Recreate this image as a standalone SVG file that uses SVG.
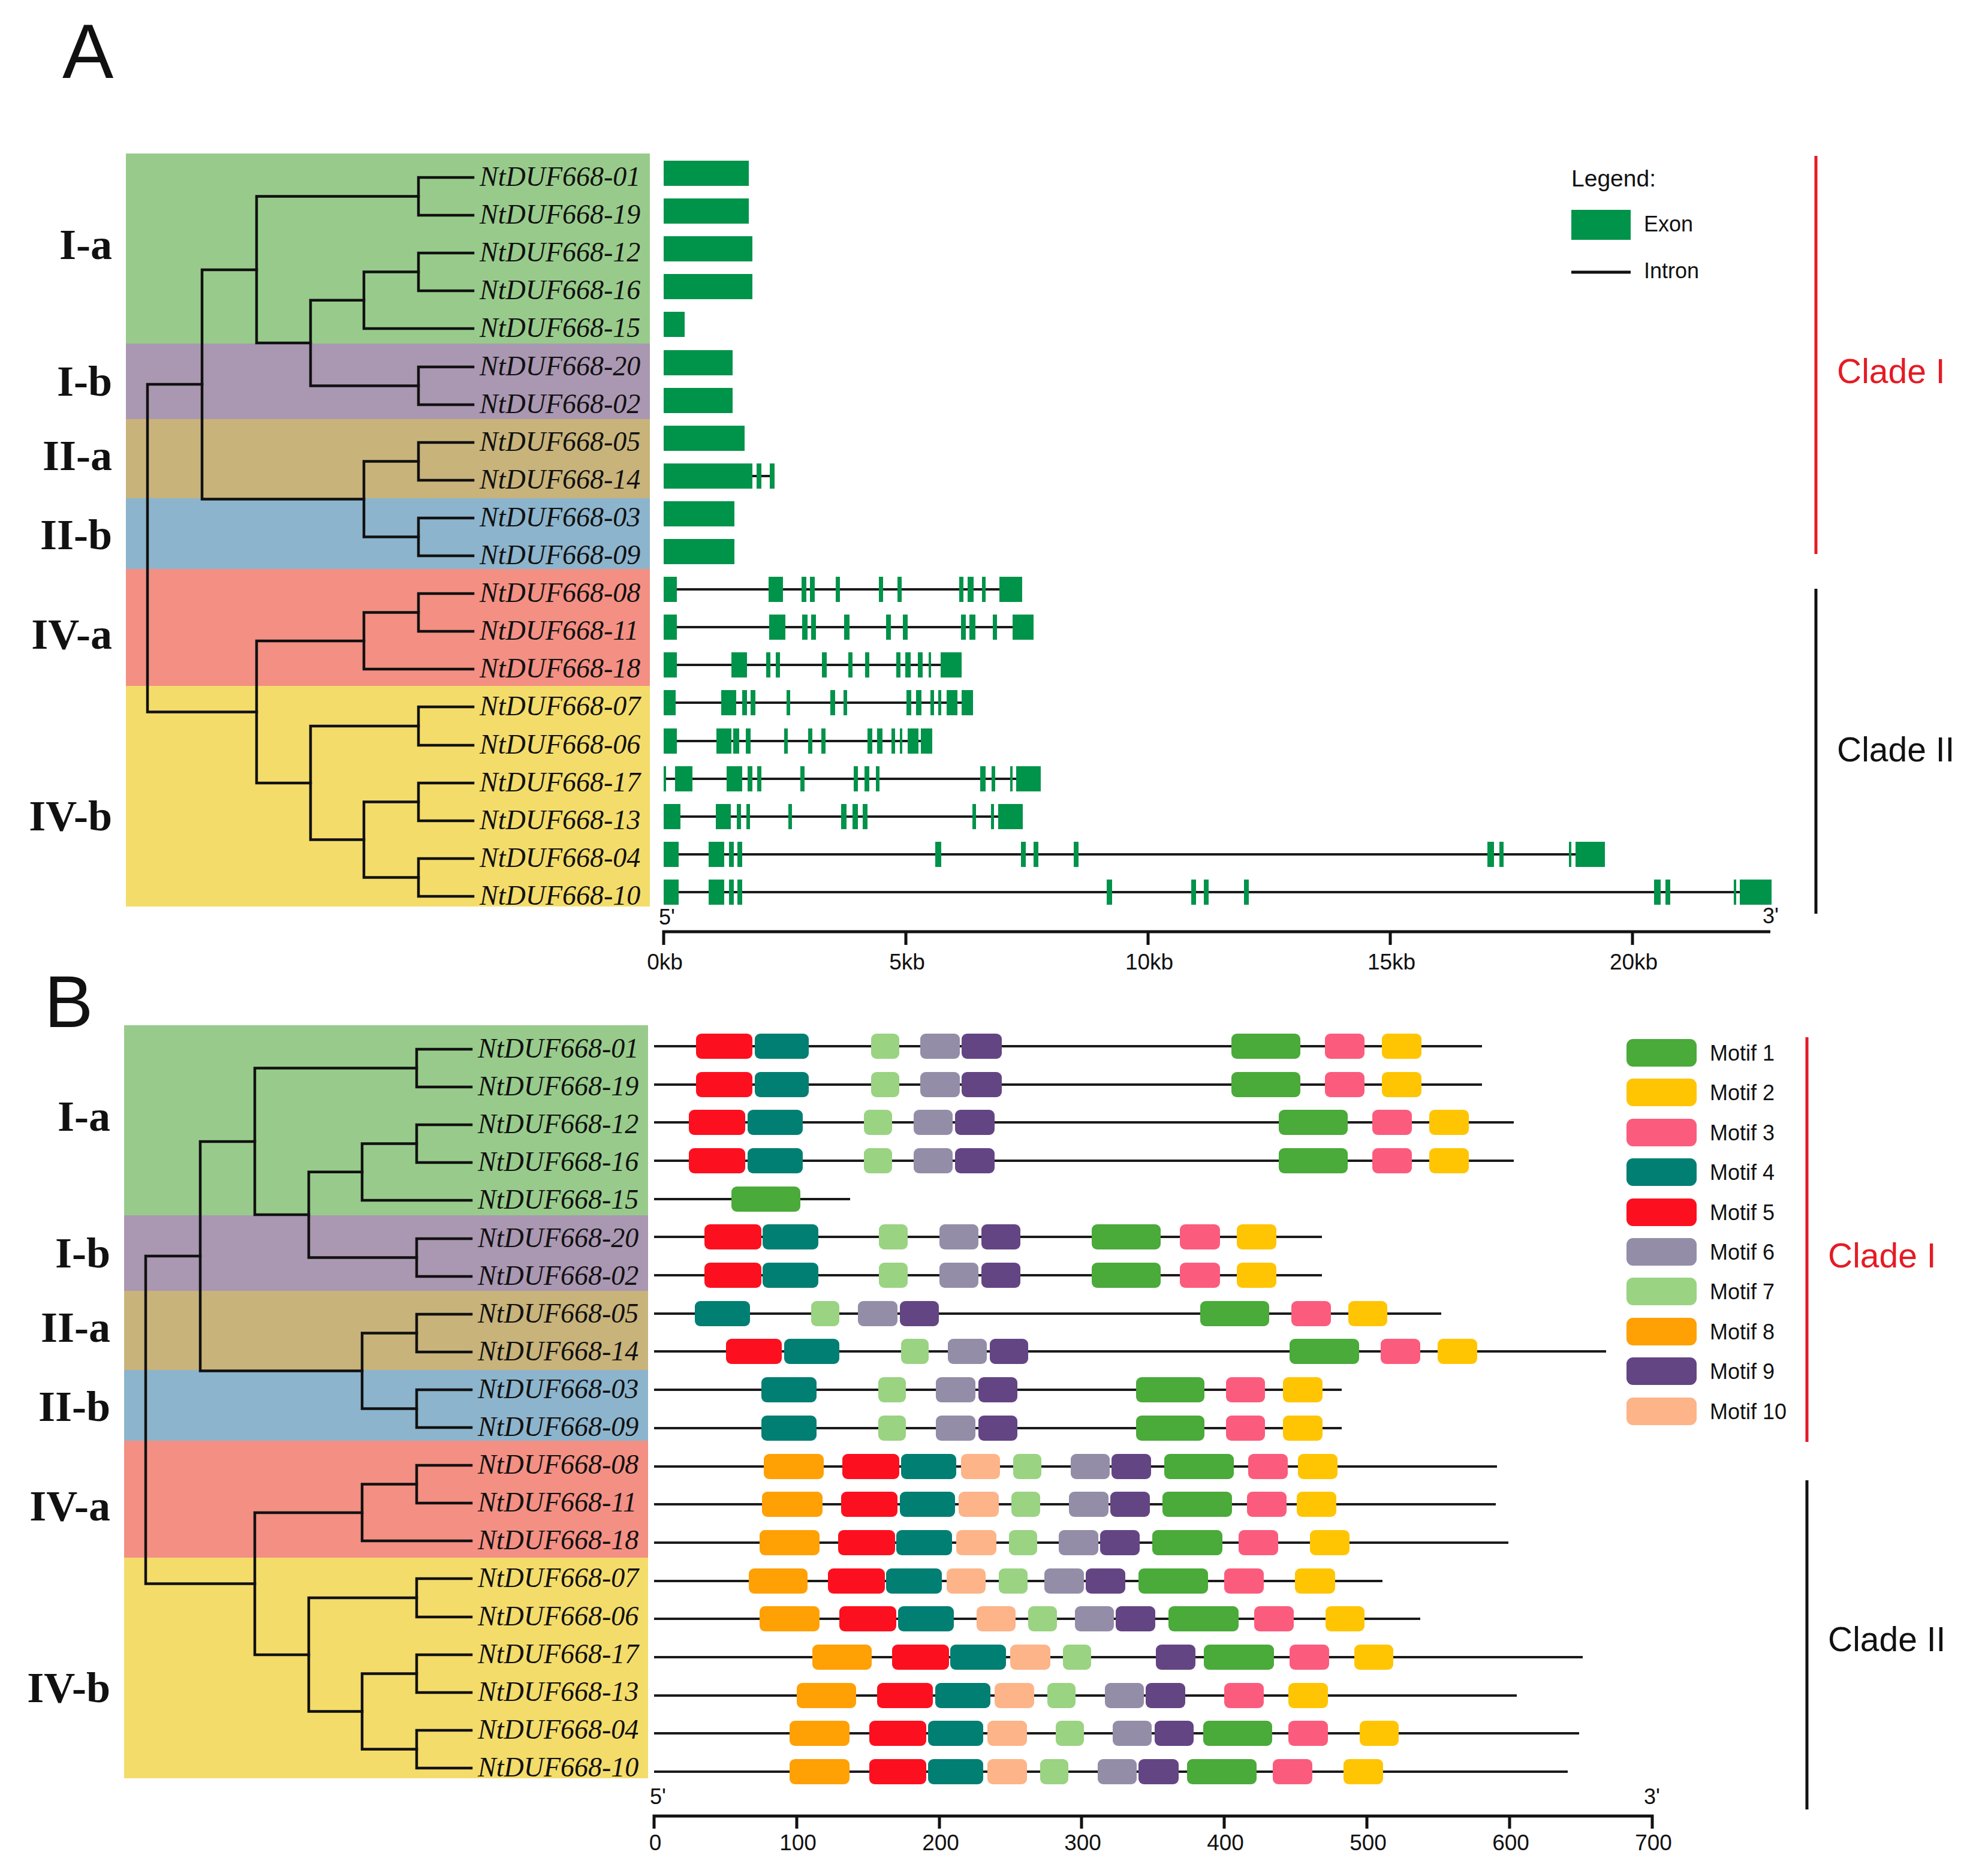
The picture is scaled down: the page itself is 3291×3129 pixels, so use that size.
<svg xmlns="http://www.w3.org/2000/svg" width="3291" height="3129" viewBox="0 0 3291 3129">
<style>
.bg{fill:#ffffff}
.b1{fill:#98cb8b}.b2{fill:#aa97b2}.b3{fill:#c8b37a}.b4{fill:#8cb4cc}.b5{fill:#f38f83}.b6{fill:#f4dc6a}
.tl{fill:none;stroke:#111;stroke-width:4.5;stroke-linecap:square;stroke-linejoin:miter}
.gl{font-family:"Liberation Serif",serif;font-style:italic;font-size:46px;fill:#111}
.cl{font-family:"Liberation Serif",serif;font-weight:bold;font-size:72px;fill:#111;text-anchor:end}
.ex{fill:#00934a}
.in{stroke:#1a1a1a;stroke-width:4}
.ax{stroke:#111;stroke-width:5;fill:none}
.at{font-family:"Liberation Sans",Arial,sans-serif;font-size:37px;fill:#111;text-anchor:middle}
.sans{font-family:"Liberation Sans",Arial,sans-serif;fill:#111}
.m1{fill:#4aaa3a}.m2{fill:#ffc502}.m3{fill:#fb5c7e}.m4{fill:#017f73}.m5{fill:#fc101f}
.m6{fill:#948da8}.m7{fill:#9ad382}.m8{fill:#ffa005}.m9{fill:#644584}.m10{fill:#fdb488}
.red{fill:#e51b24}
</style>

<!-- ============ PANEL A ============ -->
<text class="sans" x="104" y="130" font-size="128">A</text>

<g id="A-bands">
<rect class="b1" x="210" y="256" width="874" height="317"/>
<rect class="b2" x="210" y="573" width="874" height="126"/>
<rect class="b3" x="210" y="699" width="874" height="132"/>
<rect class="b4" x="210" y="831" width="874" height="118"/>
<rect class="b5" x="210" y="949" width="874" height="195"/>
<rect class="b6" x="210" y="1144" width="874" height="368"/>
</g>

<g id="A-subgroup-labels">
<text class="cl" x="187" y="432">I-a</text>
<text class="cl" x="187" y="660">I-b</text>
<text class="cl" x="187" y="784">II-a</text>
<text class="cl" x="187" y="916">II-b</text>
<text class="cl" x="187" y="1082">IV-a</text>
<text class="cl" x="187" y="1385">IV-b</text>
</g>

<g id="A-connectors">
<path class="tl" d="M789 296 H698 V359 H789"/>
<path class="tl" d="M789 422 H698 V485 H789"/>
<path class="tl" d="M698 453.5 H607 V548 H789"/>
<path class="tl" d="M789 612 H698 V675 H789"/>
<path class="tl" d="M607 500.75 H518 V643.5 H698"/>
<path class="tl" d="M698 327.5 H428 V572 H518"/>
<path class="tl" d="M789 738 H698 V801 H789"/>
<path class="tl" d="M789 864 H698 V927 H789"/>
<path class="tl" d="M698 769.5 H607 V895.5 H698"/>
<path class="tl" d="M428 450 H337 V832.5 H607"/>
<path class="tl" d="M789 990 H698 V1053 H789"/>
<path class="tl" d="M698 1021.5 H607 V1116 H789"/>
<path class="tl" d="M789 1179 H698 V1243 H789"/>
<path class="tl" d="M789 1306 H698 V1369 H789"/>
<path class="tl" d="M789 1432 H698 V1495 H789"/>
<path class="tl" d="M698 1337.5 H607 V1463.5 H698"/>
<path class="tl" d="M698 1211 H518 V1400.5 H607"/>
<path class="tl" d="M607 1069 H428 V1306 H518"/>
<path class="tl" d="M337 641 H246 V1187.5 H428"/>
</g>

<g id="A-leaf-labels">
<text class="gl" x="800" y="310">NtDUF668-01</text>
<text class="gl" x="800" y="373">NtDUF668-19</text>
<text class="gl" x="800" y="436">NtDUF668-12</text>
<text class="gl" x="800" y="499">NtDUF668-16</text>
<text class="gl" x="800" y="562">NtDUF668-15</text>
<text class="gl" x="800" y="626">NtDUF668-20</text>
<text class="gl" x="800" y="689">NtDUF668-02</text>
<text class="gl" x="800" y="752">NtDUF668-05</text>
<text class="gl" x="800" y="815">NtDUF668-14</text>
<text class="gl" x="800" y="878">NtDUF668-03</text>
<text class="gl" x="800" y="941">NtDUF668-09</text>
<text class="gl" x="800" y="1004">NtDUF668-08</text>
<text class="gl" x="800" y="1067">NtDUF668-11</text>
<text class="gl" x="800" y="1130">NtDUF668-18</text>
<text class="gl" x="800" y="1193">NtDUF668-07</text>
<text class="gl" x="800" y="1257">NtDUF668-06</text>
<text class="gl" x="800" y="1320">NtDUF668-17</text>
<text class="gl" x="800" y="1383">NtDUF668-13</text>
<text class="gl" x="800" y="1446">NtDUF668-04</text>
<text class="gl" x="800" y="1509">NtDUF668-10</text>
</g>

<!-- gene structures -->
<g id="A-gene-01" transform="translate(0,289)"><rect class="ex" x="1107" y="-21" width="142" height="42"/></g>
<g id="A-gene-19" transform="translate(0,352)"><rect class="ex" x="1107" y="-21" width="142" height="42"/></g>
<g id="A-gene-12" transform="translate(0,415)"><rect class="ex" x="1107" y="-21" width="148" height="42"/></g>
<g id="A-gene-16" transform="translate(0,478)"><rect class="ex" x="1107" y="-21" width="148" height="42"/></g>
<g id="A-gene-15" transform="translate(0,541)"><rect class="ex" x="1107" y="-21" width="35" height="42"/></g>
<g id="A-gene-20" transform="translate(0,605)"><rect class="ex" x="1107" y="-21" width="115" height="42"/></g>
<g id="A-gene-02" transform="translate(0,668)"><rect class="ex" x="1107" y="-21" width="115" height="42"/></g>
<g id="A-gene-05" transform="translate(0,731)"><rect class="ex" x="1107" y="-21" width="135" height="42"/></g>
<g id="A-gene-14" transform="translate(0,794)"><line class="in" x1="1255" y1="0" x2="1288" y2="0"/><rect class="ex" x="1107" y="-21" width="148" height="42"/><rect class="ex" x="1262" y="-21" width="8" height="42"/><rect class="ex" x="1284" y="-21" width="8" height="42"/></g>
<g id="A-gene-03" transform="translate(0,857)"><rect class="ex" x="1107" y="-21" width="118" height="42"/></g>
<g id="A-gene-09" transform="translate(0,920)"><rect class="ex" x="1107" y="-21" width="118" height="42"/></g>
<g id="A-gene-08" transform="translate(0,983)"><line class="in" x1="1107" y1="0" x2="1680" y2="0"/>
<rect class="ex" x="1107" y="-21" width="22" height="42"/><rect class="ex" x="1282" y="-21" width="24" height="42"/><rect class="ex" x="1337" y="-21" width="8" height="42"/><rect class="ex" x="1351" y="-21" width="8" height="42"/><rect class="ex" x="1394" y="-21" width="7" height="42"/><rect class="ex" x="1466" y="-21" width="7" height="42"/><rect class="ex" x="1497" y="-21" width="7" height="42"/><rect class="ex" x="1600" y="-21" width="7" height="42"/><rect class="ex" x="1614" y="-21" width="10" height="42"/><rect class="ex" x="1638" y="-21" width="6" height="42"/><rect class="ex" x="1667" y="-21" width="38" height="42"/></g>
<g id="A-gene-11" transform="translate(0,1046)"><line class="in" x1="1107" y1="0" x2="1700" y2="0"/>
<rect class="ex" x="1107" y="-21" width="22" height="42"/><rect class="ex" x="1283" y="-21" width="27" height="42"/><rect class="ex" x="1338" y="-21" width="9" height="42"/><rect class="ex" x="1353" y="-21" width="8" height="42"/><rect class="ex" x="1408" y="-21" width="9" height="42"/><rect class="ex" x="1478" y="-21" width="8" height="42"/><rect class="ex" x="1506" y="-21" width="8" height="42"/><rect class="ex" x="1603" y="-21" width="8" height="42"/><rect class="ex" x="1617" y="-21" width="10" height="42"/><rect class="ex" x="1656" y="-21" width="7" height="42"/><rect class="ex" x="1689" y="-21" width="35" height="42"/></g>
<g id="A-gene-18" transform="translate(0,1109)"><line class="in" x1="1107" y1="0" x2="1580" y2="0"/>
<rect class="ex" x="1107" y="-21" width="22" height="42"/><rect class="ex" x="1220" y="-21" width="26" height="42"/><rect class="ex" x="1278" y="-21" width="7" height="42"/><rect class="ex" x="1294" y="-21" width="7" height="42"/><rect class="ex" x="1371" y="-21" width="8" height="42"/><rect class="ex" x="1415" y="-21" width="7" height="42"/><rect class="ex" x="1443" y="-21" width="7" height="42"/><rect class="ex" x="1495" y="-21" width="7" height="42"/><rect class="ex" x="1510" y="-21" width="9" height="42"/><rect class="ex" x="1531" y="-21" width="8" height="42"/><rect class="ex" x="1549" y="-21" width="4" height="42"/><rect class="ex" x="1569" y="-21" width="35" height="42"/></g>
<g id="A-gene-07" transform="translate(0,1172)"><line class="in" x1="1107" y1="0" x2="1610" y2="0"/>
<rect class="ex" x="1107" y="-21" width="20" height="42"/><rect class="ex" x="1203" y="-21" width="25" height="42"/><rect class="ex" x="1238" y="-21" width="8" height="42"/><rect class="ex" x="1252" y="-21" width="8" height="42"/><rect class="ex" x="1312" y="-21" width="6" height="42"/><rect class="ex" x="1385" y="-21" width="8" height="42"/><rect class="ex" x="1407" y="-21" width="6" height="42"/><rect class="ex" x="1512" y="-21" width="8" height="42"/><rect class="ex" x="1528" y="-21" width="9" height="42"/><rect class="ex" x="1552" y="-21" width="6" height="42"/><rect class="ex" x="1565" y="-21" width="5" height="42"/><rect class="ex" x="1579" y="-21" width="18" height="42"/><rect class="ex" x="1604" y="-21" width="19" height="42"/></g>
<g id="A-gene-06" transform="translate(0,1236)"><line class="in" x1="1107" y1="0" x2="1545" y2="0"/>
<rect class="ex" x="1107" y="-21" width="22" height="42"/><rect class="ex" x="1195" y="-21" width="25" height="42"/><rect class="ex" x="1223" y="-21" width="10" height="42"/><rect class="ex" x="1244" y="-21" width="8" height="42"/><rect class="ex" x="1308" y="-21" width="6" height="42"/><rect class="ex" x="1348" y="-21" width="7" height="42"/><rect class="ex" x="1370" y="-21" width="7" height="42"/><rect class="ex" x="1447" y="-21" width="8" height="42"/><rect class="ex" x="1463" y="-21" width="9" height="42"/><rect class="ex" x="1487" y="-21" width="6" height="42"/><rect class="ex" x="1501" y="-21" width="4" height="42"/><rect class="ex" x="1514" y="-21" width="18" height="42"/><rect class="ex" x="1536" y="-21" width="19" height="42"/></g>
<g id="A-gene-17" transform="translate(0,1299)"><line class="in" x1="1107" y1="0" x2="1710" y2="0"/>
<rect class="ex" x="1107" y="-21" width="4" height="42"/><rect class="ex" x="1126" y="-21" width="29" height="42"/><rect class="ex" x="1212" y="-21" width="26" height="42"/><rect class="ex" x="1247" y="-21" width="8" height="42"/><rect class="ex" x="1263" y="-21" width="7" height="42"/><rect class="ex" x="1335" y="-21" width="7" height="42"/><rect class="ex" x="1424" y="-21" width="7" height="42"/><rect class="ex" x="1442" y="-21" width="8" height="42"/><rect class="ex" x="1461" y="-21" width="6" height="42"/><rect class="ex" x="1635" y="-21" width="9" height="42"/><rect class="ex" x="1654" y="-21" width="6" height="42"/><rect class="ex" x="1685" y="-21" width="4" height="42"/><rect class="ex" x="1695" y="-21" width="41" height="42"/></g>
<g id="A-gene-13" transform="translate(0,1362)"><line class="in" x1="1107" y1="0" x2="1680" y2="0"/>
<rect class="ex" x="1107" y="-21" width="28" height="42"/><rect class="ex" x="1194" y="-21" width="25" height="42"/><rect class="ex" x="1229" y="-21" width="7" height="42"/><rect class="ex" x="1245" y="-21" width="6" height="42"/><rect class="ex" x="1315" y="-21" width="6" height="42"/><rect class="ex" x="1403" y="-21" width="9" height="42"/><rect class="ex" x="1422" y="-21" width="9" height="42"/><rect class="ex" x="1439" y="-21" width="8" height="42"/><rect class="ex" x="1622" y="-21" width="6" height="42"/><rect class="ex" x="1653" y="-21" width="5" height="42"/><rect class="ex" x="1665" y="-21" width="41" height="42"/></g>
<g id="A-gene-04" transform="translate(0,1425)"><line class="in" x1="1107" y1="0" x2="2640" y2="0"/>
<rect class="ex" x="1107" y="-21" width="25" height="42"/><rect class="ex" x="1182" y="-21" width="26" height="42"/><rect class="ex" x="1216" y="-21" width="8" height="42"/><rect class="ex" x="1230" y="-21" width="8" height="42"/><rect class="ex" x="1560" y="-21" width="10" height="42"/><rect class="ex" x="1703" y="-21" width="8" height="42"/><rect class="ex" x="1724" y="-21" width="8" height="42"/><rect class="ex" x="1791" y="-21" width="8" height="42"/><rect class="ex" x="2481" y="-21" width="11" height="42"/><rect class="ex" x="2501" y="-21" width="7" height="42"/><rect class="ex" x="2617" y="-21" width="4" height="42"/><rect class="ex" x="2628" y="-21" width="49" height="42"/></g>
<g id="A-gene-10" transform="translate(0,1488)"><line class="in" x1="1107" y1="0" x2="2910" y2="0"/>
<rect class="ex" x="1107" y="-21" width="25" height="42"/><rect class="ex" x="1182" y="-21" width="26" height="42"/><rect class="ex" x="1216" y="-21" width="8" height="42"/><rect class="ex" x="1230" y="-21" width="8" height="42"/><rect class="ex" x="1846" y="-21" width="9" height="42"/><rect class="ex" x="1987" y="-21" width="8" height="42"/><rect class="ex" x="2008" y="-21" width="8" height="42"/><rect class="ex" x="2075" y="-21" width="8" height="42"/><rect class="ex" x="2759" y="-21" width="11" height="42"/><rect class="ex" x="2778" y="-21" width="8" height="42"/><rect class="ex" x="2892" y="-21" width="4" height="42"/><rect class="ex" x="2902" y="-21" width="53" height="42"/></g>

<g id="A-axis">
<text class="sans" x="1099" y="1542" font-size="36">5'</text>
<text class="sans" x="2940" y="1540" font-size="36">3'</text>
<path class="ax" d="M1107 1576 V1554 H2953 M1511 1554 V1576 M1915 1554 V1576 M2319 1554 V1576 M2723 1554 V1576"/>
<text class="at" x="1109" y="1617">0kb</text>
<text class="at" x="1513" y="1617">5kb</text>
<text class="at" x="1917" y="1617">10kb</text>
<text class="at" x="2321" y="1617">15kb</text>
<text class="at" x="2725" y="1617">20kb</text>
</g>

<g id="A-legend">
<text class="sans" x="2621" y="311" font-size="39">Legend:</text>
<rect class="ex" x="2621" y="350" width="99" height="50"/>
<text class="sans" x="2742" y="386" font-size="36">Exon</text>
<line x1="2621" y1="454" x2="2720" y2="454" stroke="#111" stroke-width="5"/>
<text class="sans" x="2742" y="464" font-size="36">Intron</text>
</g>

<g id="A-clades">
<line x1="3029" y1="260" x2="3029" y2="924" stroke="#e51b24" stroke-width="5"/>
<text class="sans red" x="3064" y="639" font-size="57">Clade I</text>
<line x1="3029" y1="982" x2="3029" y2="1524" stroke="#111" stroke-width="5"/>
<text class="sans" x="3064" y="1270" font-size="57">Clade II</text>
</g>

<!-- ============ PANEL B ============ -->
<text class="sans" x="74" y="1713" font-size="122">B</text>

<g id="B-tree" transform="translate(-3,1454)">
<g id="B-bands">
<rect class="b1" x="210" y="256" width="874" height="317"/>
<rect class="b2" x="210" y="573" width="874" height="126"/>
<rect class="b3" x="210" y="699" width="874" height="132"/>
<rect class="b4" x="210" y="831" width="874" height="118"/>
<rect class="b5" x="210" y="949" width="874" height="195"/>
<rect class="b6" x="210" y="1144" width="874" height="368"/>
</g>
<g id="B-subgroup-labels">
<text class="cl" x="187" y="432">I-a</text>
<text class="cl" x="187" y="660">I-b</text>
<text class="cl" x="187" y="784">II-a</text>
<text class="cl" x="187" y="916">II-b</text>
<text class="cl" x="187" y="1082">IV-a</text>
<text class="cl" x="187" y="1385">IV-b</text>
</g>
<g id="B-connectors">
<path class="tl" d="M789 296 H698 V359 H789"/>
<path class="tl" d="M789 422 H698 V485 H789"/>
<path class="tl" d="M698 453.5 H607 V548 H789"/>
<path class="tl" d="M789 612 H698 V675 H789"/>
<path class="tl" d="M607 500.75 H518 V643.5 H698"/>
<path class="tl" d="M698 327.5 H428 V572 H518"/>
<path class="tl" d="M789 738 H698 V801 H789"/>
<path class="tl" d="M789 864 H698 V927 H789"/>
<path class="tl" d="M698 769.5 H607 V895.5 H698"/>
<path class="tl" d="M428 450 H337 V832.5 H607"/>
<path class="tl" d="M789 990 H698 V1053 H789"/>
<path class="tl" d="M698 1021.5 H607 V1116 H789"/>
<path class="tl" d="M789 1179 H698 V1243 H789"/>
<path class="tl" d="M789 1306 H698 V1369 H789"/>
<path class="tl" d="M789 1432 H698 V1495 H789"/>
<path class="tl" d="M698 1337.5 H607 V1463.5 H698"/>
<path class="tl" d="M698 1211 H518 V1400.5 H607"/>
<path class="tl" d="M607 1069 H428 V1306 H518"/>
<path class="tl" d="M337 641 H246 V1187.5 H428"/>
</g>
<g id="B-leaf-labels">
<text class="gl" x="800" y="310">NtDUF668-01</text>
<text class="gl" x="800" y="373">NtDUF668-19</text>
<text class="gl" x="800" y="436">NtDUF668-12</text>
<text class="gl" x="800" y="499">NtDUF668-16</text>
<text class="gl" x="800" y="562">NtDUF668-15</text>
<text class="gl" x="800" y="626">NtDUF668-20</text>
<text class="gl" x="800" y="689">NtDUF668-02</text>
<text class="gl" x="800" y="752">NtDUF668-05</text>
<text class="gl" x="800" y="815">NtDUF668-14</text>
<text class="gl" x="800" y="878">NtDUF668-03</text>
<text class="gl" x="800" y="941">NtDUF668-09</text>
<text class="gl" x="800" y="1004">NtDUF668-08</text>
<text class="gl" x="800" y="1067">NtDUF668-11</text>
<text class="gl" x="800" y="1130">NtDUF668-18</text>
<text class="gl" x="800" y="1193">NtDUF668-07</text>
<text class="gl" x="800" y="1257">NtDUF668-06</text>
<text class="gl" x="800" y="1320">NtDUF668-17</text>
<text class="gl" x="800" y="1383">NtDUF668-13</text>
<text class="gl" x="800" y="1446">NtDUF668-04</text>
<text class="gl" x="800" y="1509">NtDUF668-10</text>
</g>
</g>

<!-- motif rows -->
<g id="B-motifs-01" transform="translate(0,1745)"><line class="in" x1="1091" y1="0" x2="2472" y2="0"/>
<rect class="m5" x="1161" y="-21" width="94" height="42" rx="9"/><rect class="m4" x="1259" y="-21" width="90" height="42" rx="9"/><rect class="m7" x="1453" y="-21" width="47" height="42" rx="9"/><rect class="m6" x="1535" y="-21" width="66" height="42" rx="9"/><rect class="m9" x="1604" y="-21" width="67" height="42" rx="9"/><rect class="m1" x="2054" y="-21" width="115" height="42" rx="9"/><rect class="m3" x="2210" y="-21" width="66" height="42" rx="9"/><rect class="m2" x="2305" y="-21" width="66" height="42" rx="9"/></g>
<g id="B-motifs-19" transform="translate(0,1809)"><line class="in" x1="1091" y1="0" x2="2472" y2="0"/>
<rect class="m5" x="1161" y="-21" width="94" height="42" rx="9"/><rect class="m4" x="1259" y="-21" width="90" height="42" rx="9"/><rect class="m7" x="1453" y="-21" width="47" height="42" rx="9"/><rect class="m6" x="1535" y="-21" width="66" height="42" rx="9"/><rect class="m9" x="1604" y="-21" width="67" height="42" rx="9"/><rect class="m1" x="2054" y="-21" width="115" height="42" rx="9"/><rect class="m3" x="2210" y="-21" width="66" height="42" rx="9"/><rect class="m2" x="2305" y="-21" width="66" height="42" rx="9"/></g>
<g id="B-motifs-12" transform="translate(0,1872)"><line class="in" x1="1091" y1="0" x2="2525" y2="0"/>
<rect class="m5" x="1149" y="-21" width="94" height="42" rx="9"/><rect class="m4" x="1247" y="-21" width="92" height="42" rx="9"/><rect class="m7" x="1441" y="-21" width="47" height="42" rx="9"/><rect class="m6" x="1524" y="-21" width="65" height="42" rx="9"/><rect class="m9" x="1593" y="-21" width="66" height="42" rx="9"/><rect class="m1" x="2133" y="-21" width="115" height="42" rx="9"/><rect class="m3" x="2289" y="-21" width="66" height="42" rx="9"/><rect class="m2" x="2384" y="-21" width="66" height="42" rx="9"/></g>
<g id="B-motifs-16" transform="translate(0,1936)"><line class="in" x1="1091" y1="0" x2="2525" y2="0"/>
<rect class="m5" x="1149" y="-21" width="94" height="42" rx="9"/><rect class="m4" x="1247" y="-21" width="92" height="42" rx="9"/><rect class="m7" x="1441" y="-21" width="47" height="42" rx="9"/><rect class="m6" x="1524" y="-21" width="65" height="42" rx="9"/><rect class="m9" x="1593" y="-21" width="66" height="42" rx="9"/><rect class="m1" x="2133" y="-21" width="115" height="42" rx="9"/><rect class="m3" x="2289" y="-21" width="66" height="42" rx="9"/><rect class="m2" x="2384" y="-21" width="66" height="42" rx="9"/></g>
<g id="B-motifs-15" transform="translate(0,2000)"><line class="in" x1="1091" y1="0" x2="1418" y2="0"/>
<rect class="m1" x="1220" y="-21" width="115" height="42" rx="9"/></g>
<g id="B-motifs-20" transform="translate(0,2063)"><line class="in" x1="1091" y1="0" x2="2205" y2="0"/>
<rect class="m5" x="1175" y="-21" width="95" height="42" rx="9"/><rect class="m4" x="1272" y="-21" width="93" height="42" rx="9"/><rect class="m7" x="1466" y="-21" width="48" height="42" rx="9"/><rect class="m6" x="1567" y="-21" width="65" height="42" rx="9"/><rect class="m9" x="1637" y="-21" width="65" height="42" rx="9"/><rect class="m1" x="1821" y="-21" width="115" height="42" rx="9"/><rect class="m3" x="1968" y="-21" width="67" height="42" rx="9"/><rect class="m2" x="2063" y="-21" width="66" height="42" rx="9"/></g>
<g id="B-motifs-02" transform="translate(0,2127)"><line class="in" x1="1091" y1="0" x2="2205" y2="0"/>
<rect class="m5" x="1175" y="-21" width="95" height="42" rx="9"/><rect class="m4" x="1272" y="-21" width="93" height="42" rx="9"/><rect class="m7" x="1466" y="-21" width="48" height="42" rx="9"/><rect class="m6" x="1567" y="-21" width="65" height="42" rx="9"/><rect class="m9" x="1637" y="-21" width="65" height="42" rx="9"/><rect class="m1" x="1821" y="-21" width="115" height="42" rx="9"/><rect class="m3" x="1968" y="-21" width="67" height="42" rx="9"/><rect class="m2" x="2063" y="-21" width="66" height="42" rx="9"/></g>
<g id="B-motifs-05" transform="translate(0,2191)"><line class="in" x1="1091" y1="0" x2="2404" y2="0"/>
<rect class="m4" x="1159" y="-21" width="92" height="42" rx="9"/><rect class="m7" x="1353" y="-21" width="47" height="42" rx="9"/><rect class="m6" x="1431" y="-21" width="66" height="42" rx="9"/><rect class="m9" x="1501" y="-21" width="65" height="42" rx="9"/><rect class="m1" x="2002" y="-21" width="115" height="42" rx="9"/><rect class="m3" x="2154" y="-21" width="66" height="42" rx="9"/><rect class="m2" x="2249" y="-21" width="65" height="42" rx="9"/></g>
<g id="B-motifs-14" transform="translate(0,2254)"><line class="in" x1="1091" y1="0" x2="2679" y2="0"/>
<rect class="m5" x="1211" y="-21" width="93" height="42" rx="9"/><rect class="m4" x="1308" y="-21" width="92" height="42" rx="9"/><rect class="m7" x="1503" y="-21" width="46" height="42" rx="9"/><rect class="m6" x="1581" y="-21" width="65" height="42" rx="9"/><rect class="m9" x="1651" y="-21" width="64" height="42" rx="9"/><rect class="m1" x="2151" y="-21" width="116" height="42" rx="9"/><rect class="m3" x="2303" y="-21" width="66" height="42" rx="9"/><rect class="m2" x="2398" y="-21" width="66" height="42" rx="9"/></g>
<g id="B-motifs-03" transform="translate(0,2318)"><line class="in" x1="1091" y1="0" x2="2238" y2="0"/>
<rect class="m4" x="1270" y="-21" width="92" height="42" rx="9"/><rect class="m7" x="1465" y="-21" width="46" height="42" rx="9"/><rect class="m6" x="1561" y="-21" width="66" height="42" rx="9"/><rect class="m9" x="1632" y="-21" width="65" height="42" rx="9"/><rect class="m1" x="1895" y="-21" width="114" height="42" rx="9"/><rect class="m3" x="2045" y="-21" width="65" height="42" rx="9"/><rect class="m2" x="2140" y="-21" width="66" height="42" rx="9"/></g>
<g id="B-motifs-09" transform="translate(0,2382)"><line class="in" x1="1091" y1="0" x2="2238" y2="0"/>
<rect class="m4" x="1270" y="-21" width="92" height="42" rx="9"/><rect class="m7" x="1465" y="-21" width="46" height="42" rx="9"/><rect class="m6" x="1561" y="-21" width="66" height="42" rx="9"/><rect class="m9" x="1632" y="-21" width="65" height="42" rx="9"/><rect class="m1" x="1895" y="-21" width="114" height="42" rx="9"/><rect class="m3" x="2045" y="-21" width="65" height="42" rx="9"/><rect class="m2" x="2140" y="-21" width="66" height="42" rx="9"/></g>
<g id="B-motifs-08" transform="translate(0,2446)"><line class="in" x1="1091" y1="0" x2="2497" y2="0"/>
<rect class="m8" x="1274" y="-21" width="100" height="42" rx="9"/><rect class="m5" x="1405" y="-21" width="95" height="42" rx="9"/><rect class="m4" x="1503" y="-21" width="92" height="42" rx="9"/><rect class="m10" x="1603" y="-21" width="65" height="42" rx="9"/><rect class="m7" x="1690" y="-21" width="47" height="42" rx="9"/><rect class="m6" x="1786" y="-21" width="65" height="42" rx="9"/><rect class="m9" x="1854" y="-21" width="66" height="42" rx="9"/><rect class="m1" x="1942" y="-21" width="116" height="42" rx="9"/><rect class="m3" x="2082" y="-21" width="66" height="42" rx="9"/><rect class="m2" x="2165" y="-21" width="66" height="42" rx="9"/></g>
<g id="B-motifs-11" transform="translate(0,2509)"><line class="in" x1="1091" y1="0" x2="2495" y2="0"/>
<rect class="m8" x="1271" y="-21" width="101" height="42" rx="9"/><rect class="m5" x="1403" y="-21" width="94" height="42" rx="9"/><rect class="m4" x="1501" y="-21" width="92" height="42" rx="9"/><rect class="m10" x="1599" y="-21" width="67" height="42" rx="9"/><rect class="m7" x="1687" y="-21" width="48" height="42" rx="9"/><rect class="m6" x="1783" y="-21" width="66" height="42" rx="9"/><rect class="m9" x="1852" y="-21" width="66" height="42" rx="9"/><rect class="m1" x="1939" y="-21" width="116" height="42" rx="9"/><rect class="m3" x="2080" y="-21" width="66" height="42" rx="9"/><rect class="m2" x="2163" y="-21" width="66" height="42" rx="9"/></g>
<g id="B-motifs-18" transform="translate(0,2573)"><line class="in" x1="1091" y1="0" x2="2516" y2="0"/>
<rect class="m8" x="1267" y="-21" width="100" height="42" rx="9"/><rect class="m5" x="1398" y="-21" width="95" height="42" rx="9"/><rect class="m4" x="1495" y="-21" width="93" height="42" rx="9"/><rect class="m10" x="1595" y="-21" width="67" height="42" rx="9"/><rect class="m7" x="1683" y="-21" width="47" height="42" rx="9"/><rect class="m6" x="1766" y="-21" width="66" height="42" rx="9"/><rect class="m9" x="1835" y="-21" width="66" height="42" rx="9"/><rect class="m1" x="1922" y="-21" width="117" height="42" rx="9"/><rect class="m3" x="2066" y="-21" width="66" height="42" rx="9"/><rect class="m2" x="2185" y="-21" width="66" height="42" rx="9"/></g>
<g id="B-motifs-07" transform="translate(0,2637)"><line class="in" x1="1091" y1="0" x2="2306" y2="0"/>
<rect class="m8" x="1249" y="-21" width="98" height="42" rx="9"/><rect class="m5" x="1381" y="-21" width="95" height="42" rx="9"/><rect class="m4" x="1478" y="-21" width="93" height="42" rx="9"/><rect class="m10" x="1579" y="-21" width="65" height="42" rx="9"/><rect class="m7" x="1666" y="-21" width="48" height="42" rx="9"/><rect class="m6" x="1742" y="-21" width="66" height="42" rx="9"/><rect class="m9" x="1811" y="-21" width="66" height="42" rx="9"/><rect class="m1" x="1899" y="-21" width="116" height="42" rx="9"/><rect class="m3" x="2042" y="-21" width="66" height="42" rx="9"/><rect class="m2" x="2160" y="-21" width="67" height="42" rx="9"/></g>
<g id="B-motifs-06" transform="translate(0,2700)"><line class="in" x1="1091" y1="0" x2="2369" y2="0"/>
<rect class="m8" x="1267" y="-21" width="100" height="42" rx="9"/><rect class="m5" x="1400" y="-21" width="95" height="42" rx="9"/><rect class="m4" x="1498" y="-21" width="93" height="42" rx="9"/><rect class="m10" x="1629" y="-21" width="65" height="42" rx="9"/><rect class="m7" x="1715" y="-21" width="48" height="42" rx="9"/><rect class="m6" x="1793" y="-21" width="65" height="42" rx="9"/><rect class="m9" x="1861" y="-21" width="66" height="42" rx="9"/><rect class="m1" x="1949" y="-21" width="117" height="42" rx="9"/><rect class="m3" x="2092" y="-21" width="66" height="42" rx="9"/><rect class="m2" x="2211" y="-21" width="65" height="42" rx="9"/></g>
<g id="B-motifs-17" transform="translate(0,2764)"><line class="in" x1="1091" y1="0" x2="2640" y2="0"/>
<rect class="m8" x="1355" y="-21" width="99" height="42" rx="9"/><rect class="m5" x="1488" y="-21" width="95" height="42" rx="9"/><rect class="m4" x="1585" y="-21" width="93" height="42" rx="9"/><rect class="m10" x="1685" y="-21" width="67" height="42" rx="9"/><rect class="m7" x="1773" y="-21" width="47" height="42" rx="9"/><rect class="m9" x="1928" y="-21" width="66" height="42" rx="9"/><rect class="m1" x="2008" y="-21" width="117" height="42" rx="9"/><rect class="m3" x="2151" y="-21" width="66" height="42" rx="9"/><rect class="m2" x="2259" y="-21" width="65" height="42" rx="9"/></g>
<g id="B-motifs-13" transform="translate(0,2828)"><line class="in" x1="1091" y1="0" x2="2530" y2="0"/>
<rect class="m8" x="1329" y="-21" width="99" height="42" rx="9"/><rect class="m5" x="1463" y="-21" width="93" height="42" rx="9"/><rect class="m4" x="1560" y="-21" width="92" height="42" rx="9"/><rect class="m10" x="1659" y="-21" width="66" height="42" rx="9"/><rect class="m7" x="1747" y="-21" width="47" height="42" rx="9"/><rect class="m6" x="1843" y="-21" width="65" height="42" rx="9"/><rect class="m9" x="1911" y="-21" width="66" height="42" rx="9"/><rect class="m3" x="2042" y="-21" width="66" height="42" rx="9"/><rect class="m2" x="2149" y="-21" width="66" height="42" rx="9"/></g>
<g id="B-motifs-04" transform="translate(0,2891)"><line class="in" x1="1091" y1="0" x2="2634" y2="0"/>
<rect class="m8" x="1317" y="-21" width="100" height="42" rx="9"/><rect class="m5" x="1450" y="-21" width="95" height="42" rx="9"/><rect class="m4" x="1548" y="-21" width="92" height="42" rx="9"/><rect class="m10" x="1647" y="-21" width="66" height="42" rx="9"/><rect class="m7" x="1761" y="-21" width="47" height="42" rx="9"/><rect class="m6" x="1856" y="-21" width="65" height="42" rx="9"/><rect class="m9" x="1926" y="-21" width="65" height="42" rx="9"/><rect class="m1" x="2007" y="-21" width="115" height="42" rx="9"/><rect class="m3" x="2149" y="-21" width="66" height="42" rx="9"/><rect class="m2" x="2268" y="-21" width="65" height="42" rx="9"/></g>
<g id="B-motifs-10" transform="translate(0,2955)"><line class="in" x1="1091" y1="0" x2="2615" y2="0"/>
<rect class="m8" x="1317" y="-21" width="100" height="42" rx="9"/><rect class="m5" x="1450" y="-21" width="95" height="42" rx="9"/><rect class="m4" x="1548" y="-21" width="92" height="42" rx="9"/><rect class="m10" x="1647" y="-21" width="66" height="42" rx="9"/><rect class="m7" x="1735" y="-21" width="47" height="42" rx="9"/><rect class="m6" x="1831" y="-21" width="65" height="42" rx="9"/><rect class="m9" x="1899" y="-21" width="67" height="42" rx="9"/><rect class="m1" x="1980" y="-21" width="116" height="42" rx="9"/><rect class="m3" x="2123" y="-21" width="66" height="42" rx="9"/><rect class="m2" x="2241" y="-21" width="66" height="42" rx="9"/></g>

<g id="B-axis">
<text class="sans" x="1084" y="3009" font-size="36">5'</text>
<text class="sans" x="2742" y="3009" font-size="36">3'</text>
<path class="ax" d="M1091 3050 V3029 H2756 V3050 M1329 3029 V3050 M1567 3029 V3050 M1804 3029 V3050 M2042 3029 V3050 M2280 3029 V3050 M2518 3029 V3050"/>
<text class="at" x="1093" y="3086" font-size="36">0</text>
<text class="at" x="1331" y="3086" font-size="36">100</text>
<text class="at" x="1569" y="3086" font-size="36">200</text>
<text class="at" x="1806" y="3086" font-size="36">300</text>
<text class="at" x="2044" y="3086" font-size="36">400</text>
<text class="at" x="2282" y="3086" font-size="36">500</text>
<text class="at" x="2520" y="3086" font-size="36">600</text>
<text class="at" x="2758" y="3086" font-size="36">700</text>
</g>

<g id="B-legend">
<rect class="m1" x="2713" y="1733" width="117" height="46" rx="11"/><text class="sans" x="2852" y="1769" font-size="36">Motif 1</text>
<rect class="m2" x="2713" y="1799" width="117" height="46" rx="11"/><text class="sans" x="2852" y="1835" font-size="36">Motif 2</text>
<rect class="m3" x="2713" y="1866" width="117" height="46" rx="11"/><text class="sans" x="2852" y="1902" font-size="36">Motif 3</text>
<rect class="m4" x="2713" y="1932" width="117" height="46" rx="11"/><text class="sans" x="2852" y="1968" font-size="36">Motif 4</text>
<rect class="m5" x="2713" y="1999" width="117" height="46" rx="11"/><text class="sans" x="2852" y="2035" font-size="36">Motif 5</text>
<rect class="m6" x="2713" y="2065" width="117" height="46" rx="11"/><text class="sans" x="2852" y="2101" font-size="36">Motif 6</text>
<rect class="m7" x="2713" y="2131" width="117" height="46" rx="11"/><text class="sans" x="2852" y="2167" font-size="36">Motif 7</text>
<rect class="m8" x="2713" y="2198" width="117" height="46" rx="11"/><text class="sans" x="2852" y="2234" font-size="36">Motif 8</text>
<rect class="m9" x="2713" y="2264" width="117" height="46" rx="11"/><text class="sans" x="2852" y="2300" font-size="36">Motif 9</text>
<rect class="m10" x="2713" y="2331" width="117" height="46" rx="11"/><text class="sans" x="2852" y="2367" font-size="36">Motif 10</text>
</g>

<g id="B-clades">
<line x1="3014" y1="1730" x2="3014" y2="2405" stroke="#e51b24" stroke-width="5"/>
<text class="sans red" x="3049" y="2114" font-size="57">Clade I</text>
<line x1="3014" y1="2469" x2="3014" y2="3018" stroke="#111" stroke-width="5"/>
<text class="sans" x="3049" y="2754" font-size="57">Clade II</text>
</g>
</svg>
